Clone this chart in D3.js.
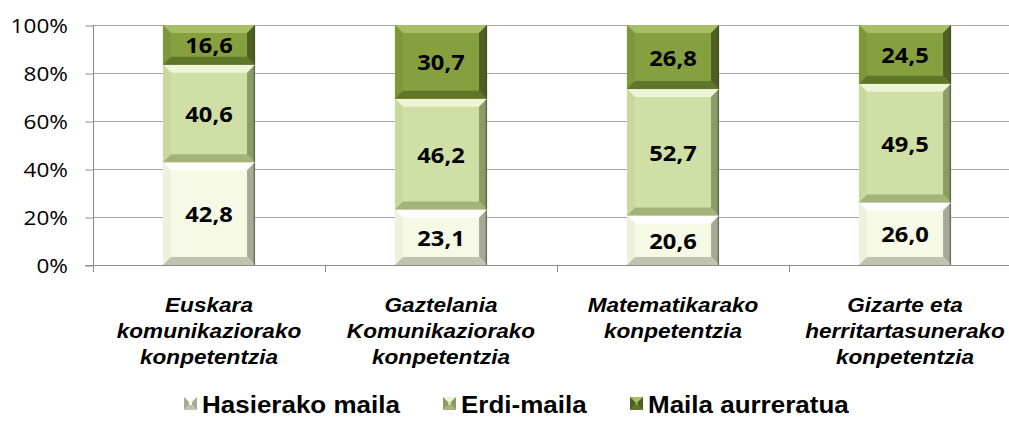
<!DOCTYPE html>
<html>
<head>
<meta charset="utf-8">
<script src="https://cdn.jsdelivr.net/npm/d3@7"></script>
<style>
  html, body { margin: 0; padding: 0; background: #ffffff; }
  svg { display: block; }
</style>
</head>
<body>
<svg id="chart" width="1009" height="435"></svg>
<script>
// Competence levels (%) by area
const categories = [
  "Euskara komunikaziorako konpetentzia",
  "Gaztelania Komunikaziorako konpetentzia",
  "Matematikarako konpetentzia",
  "Gizarte eta herritartasunerako konpetentzia"
];
const categoryLines = [
  ["Euskara", "komunikaziorako", "konpetentzia"],
  ["Gaztelania", "Komunikaziorako", "konpetentzia"],
  ["Matematikarako", "konpetentzia"],
  ["Gizarte eta", "herritartasunerako", "konpetentzia"]
];
const seriesNames = ["Hasierako maila", "Erdi-maila", "Maila aurreratua"];
const hasierako = [42.8, 23.1, 20.6, 26.0];
const erdi = [40.6, 46.2, 52.7, 49.5];
const aurreratua = [16.6, 30.7, 26.8, 24.5];
const yTicks = [0, 20, 40, 60, 80, 100];

// Bevelled face colours per series: face, top, left, right, bottom
const palette = [
  { face: "#f6f9e6", top: "#ffffff", left: "#eef2dc", right: "#a7ab95", bottom: "#c0c4ac" },
  { face: "#cfdfa5", top: "#eef5d6", left: "#c7d99c", right: "#8b9a66", bottom: "#a4b37a" },
  { face: "#86a03f", top: "#a9bf66", left: "#7e9739", right: "#4d5f22", bottom: "#5f752a" }
];

// All lettering is drawn slightly widened horizontally
const SX = 1.13;
const widen = (sel, x, y) => sel.attr("x", 0).attr("y", 0)
  .attr("transform", `translate(${x},${y}) scale(${SX},1)`);

const rows = categories.map((c, i) => ({
  cat: c,
  [seriesNames[0]]: hasierako[i],
  [seriesNames[1]]: erdi[i],
  [seriesNames[2]]: aurreratua[i]
}));
const stacked = d3.stack().keys(seriesNames)(rows);

const svg = d3.select("#chart");
const W = 1009;

const x = d3.scaleBand()
  .domain(categories)
  .range([93, 1021])
  .paddingInner(0.603)
  .paddingOuter(0.3015);
const y = d3.scaleLinear().domain([0, 100]).range([265, 25]);

const fmt = v => d3.format(".1f")(v).replace(".", ",");

// Gridlines
svg.append("g")
  .selectAll("line")
  .data(yTicks.filter(t => t > 0))
  .join("line")
  .attr("x1", x.range()[0]).attr("x2", W)
  .attr("y1", d => Math.round(y(d)) + 0.5).attr("y2", d => Math.round(y(d)) + 0.5)
  .attr("stroke", "#a6a6a6").attr("stroke-width", 1);

// Y axis
const yAxis = svg.append("g")
  .attr("transform", `translate(${x.range()[0] + 0.5},0.5)`)
  .call(d3.axisLeft(y).tickValues(yTicks).tickSize(8).tickFormat(d => d + "%"));
yAxis.select(".domain").attr("stroke", "#8c8c8c").attr("d", `M0,${y(0)}V${y(100)}`);
yAxis.selectAll(".tick line").attr("stroke", "#8c8c8c");
yAxis.selectAll(".tick text")
  .attr("font-family", "'Open Sans', sans-serif")
  .attr("font-size", 20)
  .attr("fill", "#000")
  .attr("dy", "0.36em")
  .each(function () { widen(d3.select(this), -25.5, 0); });

// X axis line and category boundary ticks
const xAxis = svg.append("g");
xAxis.append("line")
  .attr("x1", x.range()[0] - 8).attr("x2", W)
  .attr("y1", y(0) + 0.5).attr("y2", y(0) + 0.5)
  .attr("stroke", "#8c8c8c");
xAxis.selectAll("line.tk")
  .data(categories.concat([null]))
  .join("line")
  .attr("class", "tk")
  .attr("x1", (d, i) => Math.round(x.range()[0] + i * x.step()) + 0.5)
  .attr("x2", (d, i) => Math.round(x.range()[0] + i * x.step()) + 0.5)
  .attr("y1", y(0)).attr("y2", y(0) + 7)
  .attr("stroke", "#8c8c8c");

// Bevelled segment drawer
function bevel(g, x0, x1, yT, yB, col) {
  const b = Math.min(8, (yB - yT) / 2.5);
  g.append("rect").attr("x", x0).attr("y", yT).attr("width", x1 - x0).attr("height", yB - yT).attr("fill", col.face);
  const poly = (pts, fill) => g.append("polygon").attr("points", pts.map(p => p.join(",")).join(" ")).attr("fill", fill);
  poly([[x0, yT], [x1, yT], [x1 - b, yT + b], [x0 + b, yT + b]], col.top);
  poly([[x0, yT], [x0 + b, yT + b], [x0 + b, yB - b], [x0, yB]], col.left);
  poly([[x1, yT], [x1, yB], [x1 - b, yB - b], [x1 - b, yT + b]], col.right);
  poly([[x0, yB], [x0 + b, yB - b], [x1 - b, yB - b], [x1, yB]], col.bottom);
  g.append("line").attr("x1", x1 - 0.75).attr("x2", x1 - 0.75).attr("y1", yT + 1).attr("y2", yB)
    .attr("stroke", "#3f4436").attr("stroke-opacity", 0.55).attr("stroke-width", 1.5);
}

const bars = svg.append("g");
stacked.forEach((layer, si) => {
  layer.forEach(seg => {
    const cat = seg.data.cat;
    const x0 = x(cat), x1 = x(cat) + x.bandwidth();
    const yT = Math.max(y(seg[1]), y(100)), yB = y(seg[0]);
    bevel(bars.append("g"), x0, x1, yT, yB, palette[si]);
    const t = bars.append("text")
      .attr("dy", "0.36em")
      .attr("text-anchor", "middle")
      .attr("font-family", "'Open Sans', sans-serif")
      .attr("font-weight", 700)
      .attr("font-size", 21)
      .attr("fill", "#000")
      .text(fmt(seg[1] - seg[0]));
    widen(t, x0 + x.bandwidth() / 2, (yT + yB) / 2 + 1);
  });
});

// Category labels
const catG = svg.append("g");
categories.forEach((c, i) => {
  categoryLines[i].forEach((line, li) => {
    const t = catG.append("text")
      .attr("text-anchor", "middle")
      .attr("font-family", "'Liberation Sans', Arial, sans-serif")
      .attr("font-weight", 700)
      .attr("font-style", "italic")
      .attr("font-size", 20)
      .attr("fill", "#000")
      .text(line);
    widen(t, x(c) + x.bandwidth() / 2, 312 + li * 26);
  });
});

// Legend
const legendX = [184, 443, 630];
const leg = svg.append("g");
seriesNames.forEach((name, i) => {
  const g = leg.append("g").attr("transform", `translate(${legendX[i]},397)`);
  const s = 13, k = 5, col = palette[i];
  g.append("rect").attr("width", s).attr("height", s).attr("fill", col.face);
  const poly = (pts, fill) => g.append("polygon").attr("points", pts.map(p => p.join(",")).join(" ")).attr("fill", fill);
  poly([[0, 0], [s, 0], [s - k, k], [k, k]], col.top);
  poly([[0, 0], [k, k], [k, s - k], [0, s]], col.right);
  poly([[s, 0], [s, s], [s - k, s - k], [s - k, k]], col.right);
  poly([[0, s], [k, s - k], [s - k, s - k], [s, s]], col.bottom);
  const t = g.append("text")
    .attr("dy", "0.36em")
    .attr("font-family", "'Liberation Sans', Arial, sans-serif")
    .attr("font-weight", 700)
    .attr("font-size", 23)
    .attr("fill", "#000")
    .text(name);
  widen(t, s + 5, s / 2 + 1);
});
</script>
</body>
</html>
